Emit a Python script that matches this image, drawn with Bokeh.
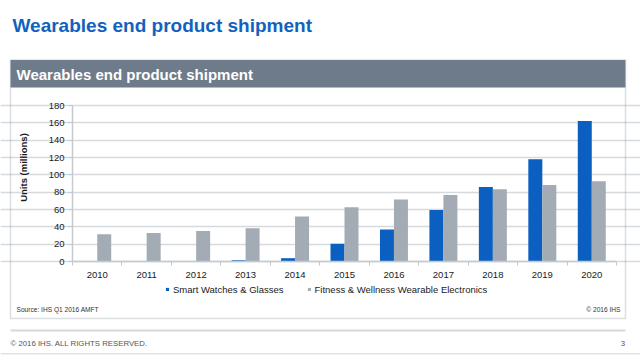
import math
from bokeh.plotting import figure
from bokeh.models import (Label, BoxAnnotation, Legend, LegendItem, FixedTicker,
                          Range1d, ColumnDataSource)
from bokeh.transform import dodge
from bokeh.embed import file_html
from bokeh.resources import INLINE

# ---- data ----
years = ["2010", "2011", "2012", "2013", "2014", "2015", "2016", "2017", "2018", "2019", "2020"]
smart_watches_glasses = [0, 0, 0, 1.5, 3.8, 20.4, 36.9, 59.5, 86.0, 117.9, 162.1]
fitness_wellness = [31.5, 33.0, 35.3, 38.4, 51.8, 62.6, 71.4, 76.8, 83.3, 88.4, 92.5]
y_ticks = [0, 20, 40, 60, 80, 100, 120, 140, 160, 180]

series_names = ["Smart Watches & Glasses", "Fitness & Wellness Wearable Electronics"]
page_title = "Wearables end product shipment"
panel_title = "Wearables end product shipment"
y_title = "Units (millions)"
source_note = "Source: IHS Q1 2016 AMFT"
copyright_note = "\u00a9 2016 IHS"
footer_note = "\u00a9 2016 IHS. ALL RIGHTS RESERVED."
page_number = "3"

FONT = "Liberation Sans"
BLUE = "#0a5fc0"
GREY = "#a3acb4"
AXIS = "#c3c9cf"

W, H = 640, 355
# plotting area inside the page (canvas px)
FL, FR, FT, FB = 72, 616, 105, 261
Y_MAX = y_ticks[-1]
n = len(years)
cw = (FR - FL) / n            # px per category
k = (FB - FT) / Y_MAX         # px per unit

idx = list(range(n))
src = ColumnDataSource(dict(x=idx, year=years, smart=smart_watches_glasses, fit=fitness_wellness))

# The frame spans the whole page so that page decorations are not clipped;
# ranges are set so the chart area lands at the right place.
x_rng = Range1d(-0.5 - FL / cw, -0.5 + (W - FL) / cw)
y_rng = Range1d(-(H - FB) / k, FB / k)

p = figure(width=W, height=H, output_backend="svg", toolbar_location=None,
           x_range=x_rng, y_range=y_rng, min_border=0)
p.outline_line_color = None
p.background_fill_color = "white"
p.border_fill_color = "white"

bw = 0.283
r1 = p.vbar(x=dodge("x", -bw / 2), top="smart", width=bw, source=src,
            fill_color=BLUE, line_color=None)
r2 = p.vbar(x=dodge("x", bw / 2), top="fit", width=bw, source=src,
            fill_color=GREY, line_color=None)

# axes, pinned at the chart area's edges
xa = p.xaxis[0]
xa.fixed_location = 0
xa.bounds = (-0.5, n - 0.5)
xa.ticker = FixedTicker(ticks=idx, minor_ticks=[i - 0.5 for i in range(n + 1)])
xa.major_label_overrides = {i: y for i, y in zip(idx, years)}
xa.major_tick_line_color = None
xa.major_tick_out = 0
xa.major_tick_in = 0
xa.minor_tick_out = 4
xa.minor_tick_in = 0
xa.minor_tick_line_color = AXIS
xa.axis_line_color = AXIS
xa.axis_line_width = 1.5
xa.major_label_standoff = 6
xa.major_label_text_font = FONT
xa.major_label_text_font_size = "9.5px"
xa.major_label_text_color = "#1a1a1a"

ya = p.yaxis[0]
ya.fixed_location = -0.5
ya.bounds = (0, Y_MAX)
ya.ticker = FixedTicker(ticks=y_ticks)
ya.major_tick_out = 4
ya.major_tick_in = 0
ya.minor_tick_line_color = None
ya.major_tick_line_color = AXIS
ya.axis_line_color = AXIS
ya.axis_line_width = 1.5
ya.major_label_standoff = 4
ya.major_label_text_font = FONT
ya.major_label_text_font_size = "9.5px"
ya.major_label_text_color = "#1a1a1a"

p.xgrid.grid_line_color = None
p.ygrid.grid_line_color = "#d5dade"
p.ygrid.grid_line_width = 1.5
p.ygrid.bounds = (-0.5, n - 0.5)
p.ygrid.ticker = FixedTicker(ticks=y_ticks)


def box(l, r, t, b, **kw):
    # canvas px (y downward) -> screen units (y upward from bottom)
    bx = BoxAnnotation(left=l, right=r, top=H - t, bottom=H - b,
                       left_units="screen", right_units="screen",
                       top_units="screen", bottom_units="screen", **kw)
    p.add_layout(bx)
    return bx


def label(text, cx, cy, size, color, style="normal", align="left", baseline="middle", angle=0):
    lb = Label(x=cx, y=H - cy, x_units="screen", y_units="screen", text=text,
               text_font=FONT, text_font_size=size, text_color=color,
               text_font_style=style, text_align=align, text_baseline=baseline, angle=angle)
    p.add_layout(lb)
    return lb


# panel header and border
box(10, 625, 59.5, 87, fill_color="#6e7b8b", fill_alpha=1, line_color=None)
box(10, 625, 59.5, 318, fill_color=None, fill_alpha=0, line_color="#8a949e", line_width=1.5)
# separator lines
box(10, 625, 329, 331, fill_color="#d6d9dc", fill_alpha=1, line_color=None)
box(0, 640, 352.5, 354, fill_color="#e3e3e3", fill_alpha=1, line_color=None)

# texts
label(page_title, 12, 25, "19px", "#1262bd", style="bold", baseline="alphabetic")
label(panel_title, 16, 73.5, "15px", "white", style="bold")
label(y_title, 23, 167, "9.5px", "#1a1a1a", style="bold", align="center", angle=math.pi / 2)
label(source_note, 16, 309, "6.6px", "#333333")
label(copyright_note, 620, 309, "6.6px", "#333333", align="right")
label(footer_note, 10, 343, "7.8px", "#555555")
label(page_number, 624.5, 343, "7.8px", "#555555", align="right")

# legend (location = bottom-left corner, screen units from bottom-left)
legend = Legend(items=[LegendItem(label=series_names[0], renderers=[r1]),
                       LegendItem(label=series_names[1], renderers=[r2])],
                orientation="horizontal", location=(165, H - 294.5),
                glyph_width=4, glyph_height=4, label_standoff=4, spacing=23,
                padding=0, margin=0, border_line_color=None, background_fill_alpha=0,
                label_text_font=FONT, label_text_font_size="9.5px",
                label_text_color="#1a1a1a", label_height=10)
p.add_layout(legend)

open("out.html", "w").write(file_html(p, INLINE))
